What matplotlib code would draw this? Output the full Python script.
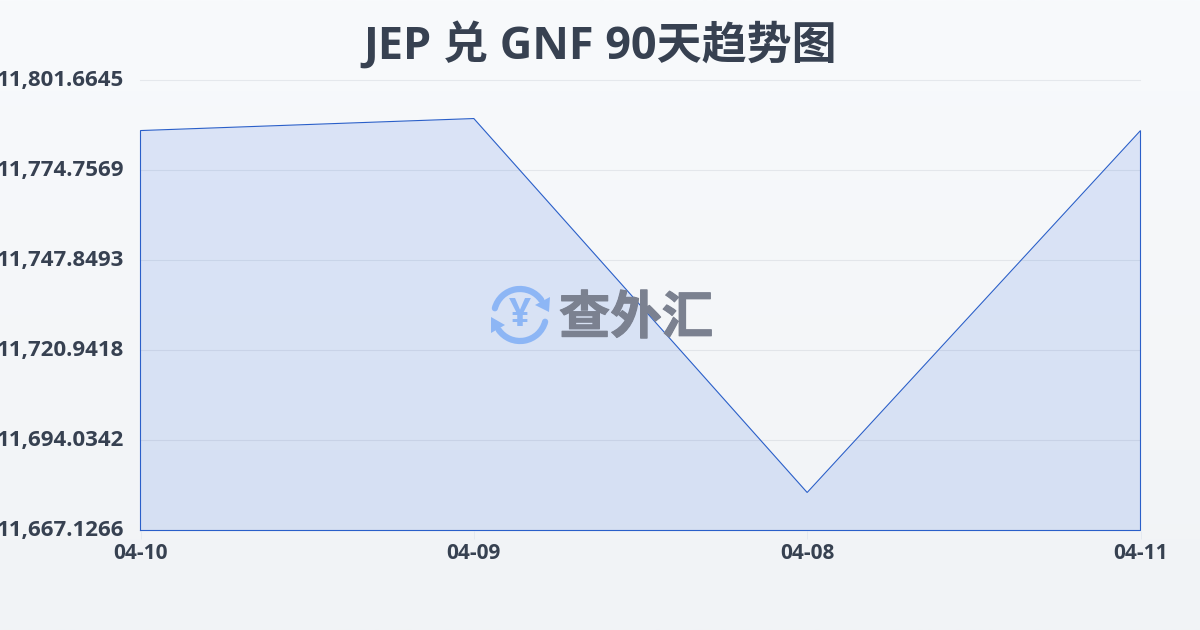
import numpy as np
import matplotlib
matplotlib.use("Agg")
import matplotlib.pyplot as plt
import matplotlib.patheffects as pe
from matplotlib.patches import Arc, Polygon

plt.rcParams['font.family'] = ['Open Sans', 'Noto Sans CJK SC', 'DejaVu Sans']

dates = ['04-10', '04-09', '04-08', '04-11']
rates = [11786.70, 11790.29, 11678.49, 11786.70]
y_ticks = [11667.1266, 11694.0342, 11720.9418, 11747.8493, 11774.7569, 11801.6645]
title = 'JEP 兑 GNF 90天趋势图'
logo_text = '查外汇'

W, H = 1200, 630
fig = plt.figure(figsize=(W / 100, H / 100), dpi=100)

bg = fig.add_axes([0, 0, 1, 1], zorder=0)
bg.set_axis_off()
grad = np.linspace(0, 1, 256)[:, None]
top = np.array([0xf8, 0xfa, 0xfc]) / 255
bot = np.array([0xf1, 0xf3, 0xf6]) / 255
bg.imshow(top + (bot - top) * grad[..., None], aspect='auto', extent=[0, 1, 0, 1])

ax = fig.add_axes([140.5 / W, 1 - 530.5 / H, 1000 / W, 450 / H], zorder=1)
ax.patch.set_alpha(0)
x = np.arange(len(dates))
ax.set_xlim(0, len(dates) - 1)
ax.set_ylim(y_ticks[0], y_ticks[-1])

ax.fill_between(x, rates, y_ticks[0], color='#3b70e0', alpha=0.15, lw=0, zorder=2)
ax.plot(np.r_[x[0], x, x[-1], x[0]],
        np.r_[y_ticks[0], rates, y_ticks[0], y_ticks[0]],
        color='#2a5fc9', lw=0.8, zorder=3, solid_joinstyle='miter', clip_on=False)

ax.set_yticks(y_ticks)
ax.set_yticklabels([f'{v:,.4f}' for v in y_ticks])
ax.set_xticks(x)
ax.set_xticklabels(dates)
ax.set_axisbelow(True)
for v in y_ticks:
    ax.axhline(v, color='#334155', alpha=0.09, lw=0.8, zorder=1, snap=False, clip_on=False)
for s in ax.spines.values():
    s.set_visible(False)
ax.tick_params(axis='y', length=0, pad=12, labelsize=16, labelcolor='#374151')
ax.tick_params(axis='x', length=6, width=0.6, color='#e2e8f0', pad=3, labelsize=15, labelcolor='#374151')
for t in ax.get_yticklabels() + ax.get_xticklabels():
    t.set_fontweight('bold')
for t in ax.get_yticklabels():
    t.set_verticalalignment('center')

fig.text(0.5, 1 - 46 / H, title, ha='center', va='center', fontsize=32.4,
         fontweight='bold', color='#374151', zorder=5)

# Watermark in pixel coordinates
ov = fig.add_axes([0, 0, 1, 1], zorder=6)
ov.set_axis_off()
ov.patch.set_alpha(0)
ov.set_xlim(0, W)
ov.set_ylim(H, 0)
blue = '#8db6f5'
cx, cy, r = 520, 315, 26
ov.add_patch(Arc((cx, cy), 2 * r, 2 * r, theta1=195, theta2=325, color=blue, lw=4.5, capstyle='round'))
ov.add_patch(Arc((cx, cy), 2 * r, 2 * r, theta1=15, theta2=145, color=blue, lw=4.5, capstyle='round'))
ov.add_patch(Polygon([[550, 297], [549, 312], [535, 305]], closed=True, color=blue, lw=0))
ov.add_patch(Polygon([[491, 317], [505, 325], [491, 333]], closed=True, color=blue, lw=0))
ov.text(cx, cy, '¥', ha='center', va='center', fontsize=28, fontweight='bold', color=blue)
ov.text(636, 318, logo_text, ha='center', va='center', fontsize=37, fontweight='bold',
        color='#7b8190', family=['Noto Sans CJK SC'],
        path_effects=[pe.withStroke(linewidth=0.8, foreground='#7b8190')])

fig.savefig('out.png', dpi=100)
